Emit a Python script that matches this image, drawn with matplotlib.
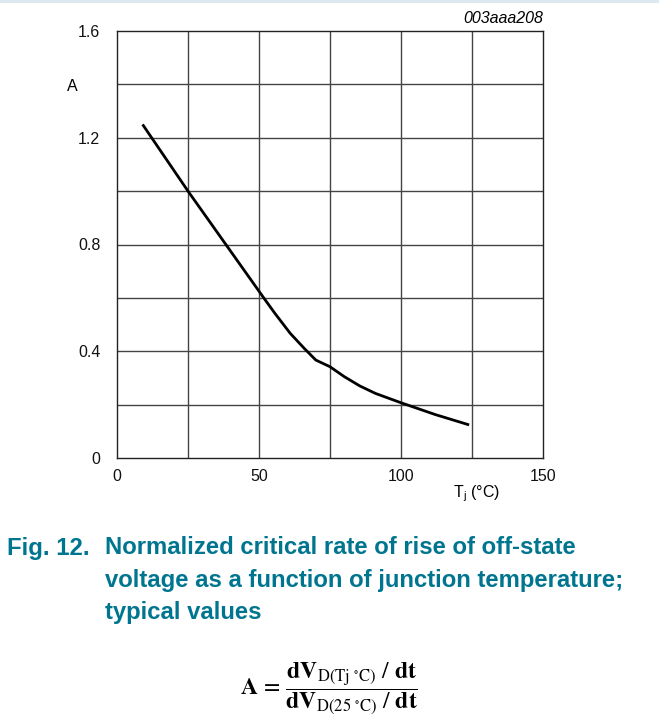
import numpy as np
import matplotlib.pyplot as plt
from matplotlib.lines import Line2D

# curve
tj = [9, 25, 40, 47, 52, 55.6, 61, 66, 70, 75, 80, 85.5, 91, 100, 112, 124]
a_val = [1.25, 1.0, 0.775, 0.67, 0.595, 0.542, 0.467, 0.41, 0.367, 0.342, 0.305, 0.27, 0.242, 0.207, 0.163, 0.124]

x_ticks = [0, 50, 100, 150]
y_ticks = [0, 0.4, 0.8, 1.2, 1.6]
y_labels = ['0', '0.4', '0.8', '1.2', '1.6']

plt.rcParams['font.family'] = ['Liberation Sans', 'DejaVu Sans']
plt.rcParams['mathtext.fontset'] = 'stix'
narrow = ['Liberation Sans Narrow', 'Liberation Sans', 'DejaVu Sans']

fig = plt.figure(figsize=(6.59, 7.27), dpi=100)
ax = fig.add_axes([117 / 659, 1 - 458 / 727, 426 / 659, 427 / 727])

ax.set_xlim(0, 150)
ax.set_ylim(0, 1.6)
for v in np.arange(25, 150, 25):
    ax.axvline(v, color='#444444', lw=1.0)
for v in np.arange(0.2, 1.6, 0.2):
    ax.axhline(v, color='#444444', lw=1.0)
for s in ax.spines.values():
    s.set_color('#222222')
    s.set_linewidth(1.0)

ax.plot(tj, a_val, color='black', lw=2.0, solid_capstyle='butt')

ax.set_xticks(x_ticks)
ax.set_yticks(y_ticks)
ax.set_yticklabels(y_labels)
ax.tick_params(length=0, labelsize=11.5, colors='#111111', pad=12)
ax.tick_params(axis='x', pad=8)
for lab in ax.get_xticklabels() + ax.get_yticklabels():
    lab.set_family(narrow)

ax.text(-0.105, 0.87, 'A', transform=ax.transAxes, fontsize=11.5, family=narrow,
        ha='center', va='center')
ax.text(0.845, -0.085, r'T$_\mathregular{j}$ (°C)', transform=ax.transAxes,
        fontsize=11.5, family=narrow, ha='center', va='center')
ax.text(1.0, 1.012, '003aaa208', transform=ax.transAxes, fontsize=11.5, family=narrow,
        style='italic', ha='right', va='bottom')

teal = '#00758F'
fig.text(7 / 659, 1 - 548 / 727, 'Fig. 12.', color=teal, fontsize=17.2,
         fontweight='bold', ha='left', va='center')
caption = ['Normalized critical rate of rise of off-state',
           'voltage as a function of junction temperature;',
           'typical values']
for i, line in enumerate(caption):
    fig.text(105 / 659, 1 - (548 + 32 * i) / 727, line, color=teal, fontsize=17.2,
             fontweight='bold', ha='left', va='center')

formula = (r'$\mathbf{A}\,=\,\dfrac{\mathbf{dV}_{\mathrm{D(Tj\ {}^{\circ}C)}}\ /\ \mathbf{dt}}'
           r'{\mathbf{dV}_{\mathrm{D(25\ {}^{\circ}C)}}\ /\ \mathbf{dt}}$')
fig.text(329 / 659, 1 - 689 / 727, formula, fontsize=17, ha='center', va='center')

# thin light border at the top of the page
fig.add_artist(Line2D([0, 1], [0.998, 0.998], transform=fig.transFigure,
                      color='#dbe7ee', lw=2))

fig.savefig('out.png', dpi=100)
